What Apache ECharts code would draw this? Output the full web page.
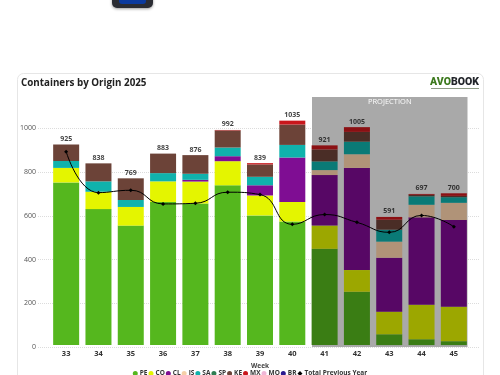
<!DOCTYPE html>
<html>
<head>
<meta charset="utf-8">
<title>Containers by Origin 2025</title>
<script src="https://cdn.jsdelivr.net/npm/echarts@6/dist/echarts.min.js"></script>
<style>
  html, body { margin: 0; padding: 0; background: #fff; overflow: hidden; }
  #chart { width: 500px; height: 375px; }
</style>
</head>
<body>
<div id="chart"></div>
<script>
const weeks = ['33', '34', '35', '36', '37', '38', '39', '40', '41', '42', '43', '44', '45']
const totals = [925, 838, 769, 883, 876, 992, 839, 1035, 921, 1005, 591, 697, 700]
const PE = [750, 627, 551, 660, 653, 737, 598, 570, 444, 246, 50, 27, 18]
const CO = [67, 80, 86, 95, 101, 111, 92, 90, 107, 100, 104, 159, 159]
const CL = [0, 0, 0, 0, 8, 23, 47, 205, 233, 471, 249, 403, 400]
const IS = [0, 0, 0, 0, 0, 0, 0, 0, 23, 63, 74, 58, 79]
const SA = [32, 48, 32, 38, 28, 40, 39, 58, 40, 58, 55, 39, 26]
const SP = [0, 0, 0, 0, 0, 0, 0, 0, 0, 0, 0, 0, 0]
const KE = [76, 83, 100, 90, 86, 79, 57, 94, 55, 45, 46, 7, 6]
const MX = [0, 0, 0, 0, 0, 2, 6, 18, 19, 22, 13, 4, 12]
const MO = [0, 0, 0, 0, 0, 0, 0, 0, 0, 0, 0, 0, 0]
const BR = [0, 0, 0, 0, 0, 0, 0, 0, 0, 0, 0, 0, 0]
const previousYear = [892, 703, 714, 651, 654, 705, 694, 557, 602, 566, 520, 598, 546]

const firstProjected = 8
const yMax = 1144
const FONT = '"Open Sans", "Noto Sans", sans-serif'

const origins = [
  { name: 'PE', values: PE, color: '#55b71e', dark: '#3a7d14' },
  { name: 'CO', values: CO, color: '#e4f500', dark: '#9ca700' },
  { name: 'CL', values: CL, color: '#7f0d93', dark: '#570765' },
  { name: 'IS', values: IS, color: '#f5cfa8', dark: '#b09378' },
  { name: 'SA', values: SA, color: '#10b2ac', dark: '#0a7a76' },
  { name: 'SP', values: SP, color: '#2f7d52', dark: '#205638' },
  { name: 'KE', values: KE, color: '#6c4338', dark: '#4a2d26' },
  { name: 'MX', values: MX, color: '#c9171c', dark: '#8b1013' },
  { name: 'MO', values: MO, color: '#f0b6d6', dark: '#a57d93' },
  { name: 'BR', values: BR, color: '#2b1a90', dark: '#1d1263' }
]

const barSeries = origins.map(o => ({
  name: o.name,
  type: 'bar',
  stack: 'total',
  xAxisIndex: 1,
  yAxisIndex: 1,
  barWidth: 26,
  z: 3,
  itemStyle: { color: o.color },
  data: o.values.map((v, i) => ({
    value: v,
    itemStyle: { color: i >= firstProjected ? o.dark : o.color }
  }))
}))

const chart = echarts.init(document.getElementById('chart'), null, { renderer: 'canvas' })

chart.setOption({
  animation: false,
  backgroundColor: '#fff',
  textStyle: { fontFamily: FONT },
  graphic: [
    {
      type: 'rect',
      z: -10,
      shape: { x: 17.5, y: 73.5, width: 466, height: 320, r: 6 },
      style: { fill: '#fff', stroke: '#e6e6e6', lineWidth: 1 }
    },
    {
      type: 'rect',
      z: -10,
      shape: { x: 112, y: -12, width: 41, height: 20, r: 5 },
      style: { fill: '#2a2c33', shadowBlur: 3, shadowColor: 'rgba(0,0,0,0.4)', shadowOffsetY: 1 }
    },
    {
      type: 'rect',
      z: -9,
      shape: { x: 119, y: -6, width: 27, height: 10, r: 3 },
      style: { fill: '#0b3a9e' }
    },
    {
      type: 'text',
      left: 430,
      top: 77,
      style: {
        text: '{a|AVO}{b|BOOK}',
        rich: {
          a: { fill: '#3d7a1e', fontFamily: 'Roboto', fontWeight: 900, fontSize: 10.5 },
          b: { fill: '#23262b', fontFamily: 'Roboto', fontWeight: 900, fontSize: 10.5 }
        }
      }
    },
    {
      // tagline under the logo, too small to read in the source
      type: 'rect',
      z: -9,
      shape: { x: 431, y: 88, width: 48, height: 1 },
      style: { fill: '#8f9c86' }
    }
  ],
  title: {
    text: 'Containers by Origin 2025',
    left: 21,
    top: 78,
    padding: 0,
    textStyle: { fontFamily: FONT, fontSize: 9.8, fontWeight: 'bold', color: '#222' }
  },
  legend: {
    bottom: -7,
    left: 'center',
    data: origins.map(o => ({ name: o.name, icon: 'circle' })).concat([{ name: 'Total Previous Year', icon: 'diamond' }]),
    itemWidth: 5,
    itemHeight: 5,
    itemGap: 1,
    textStyle: { fontFamily: FONT, fontSize: 6.5, fontWeight: 'bold', color: '#333', padding: [0, 0, 0, -3] }
  },
  // first grid carries the long gridlines and the projection band, second one the bars
  grid: [
    { left: 38, right: 20, top: 97, bottom: 28 },
    { left: 50, right: 30, top: 97, bottom: 28 }
  ],
  xAxis: [
    { type: 'value', gridIndex: 0, min: 0, max: 442, show: false },
    {
      type: 'category',
      gridIndex: 1,
      data: weeks,
      name: 'Week',
      nameLocation: 'middle',
      nameGap: 12,
      nameTextStyle: { fontFamily: FONT, fontSize: 6.5, fontWeight: 'bold', color: '#444' },
      axisLine: { show: false },
      axisTick: { show: false },
      axisLabel: { margin: 5, fontFamily: FONT, fontSize: 7.5, fontWeight: 'bold', color: '#333' }
    }
  ],
  yAxis: [
    {
      type: 'value',
      gridIndex: 0,
      min: 0,
      max: yMax,
      interval: 200,
      splitLine: { showMaxLine: false, lineStyle: { color: '#dcdcdc', type: 'dotted', width: 1 } },
      axisLine: { show: false },
      axisTick: { show: false },
      axisLabel: {
        showMaxLabel: false,
        margin: 2,
        fontFamily: FONT,
        fontSize: 7,
        color: '#555',
        formatter: v => String(v)
      }
    },
    { type: 'value', gridIndex: 1, min: 0, max: yMax, show: false, splitLine: { show: false } }
  ],
  series: [
    {
      name: 'band',
      type: 'line',
      xAxisIndex: 0,
      yAxisIndex: 0,
      z: 1,
      data: [],
      markArea: {
        silent: true,
        itemStyle: { color: '#a9a9a9' },
        label: {
          show: true,
          position: 'insideTop',
          distance: 1,
          color: '#fff',
          fontFamily: FONT,
          fontSize: 7.5,
          formatter: 'PROJECTION'
        },
        data: [[{ xAxis: 274, yAxis: 0 }, { xAxis: 429.5, yAxis: yMax }]]
      }
    }
  ].concat(barSeries).concat([
    {
      name: 'Total',
      type: 'scatter',
      xAxisIndex: 1,
      yAxisIndex: 1,
      symbolSize: 0,
      z: 5,
      label: {
        show: true,
        position: 'top',
        distance: 2,
        fontFamily: FONT,
        fontSize: 7,
        fontWeight: 'bold',
        color: '#111'
      },
      data: totals
    },
    {
      name: 'Total Previous Year',
      type: 'line',
      xAxisIndex: 1,
      yAxisIndex: 1,
      smooth: 0.5,
      z: 6,
      symbol: 'diamond',
      symbolSize: 4,
      itemStyle: { color: '#000' },
      lineStyle: { color: '#000', width: 1 },
      data: previousYear
    }
  ])
})
</script>
</body>
</html>
